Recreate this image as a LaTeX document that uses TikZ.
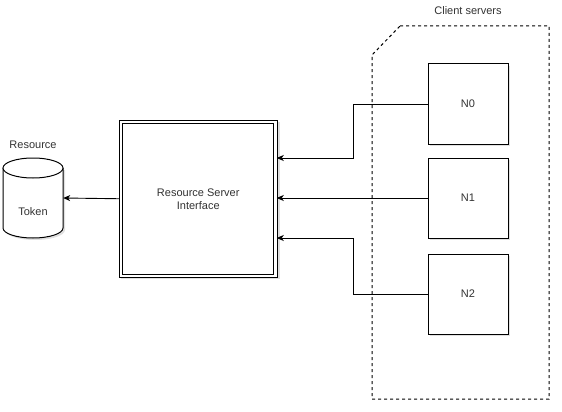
\documentclass[tikz,border=0pt]{standalone}
\usepackage{fontspec}
\setmainfont{Liberation Sans}
\usetikzlibrary{arrows.meta}
\begin{document}
\begin{tikzpicture}[x=1pt,y=-1pt,
  every node/.style={font=\fontsize{11}{13}\selectfont, text=black!80},
  sbox/.style={draw=black, line width=1pt, fill=white, minimum width=80pt, minimum height=80pt, inner sep=0pt},
  shd/.style={fill=black, opacity=0.12},
  arr/.style={line width=0.9pt, -{Stealth[length=7pt,width=6pt,inset=2pt]}}
]
\useasboundingbox[fill=white] (0,0) rectangle (562,412);
% container
\draw[line width=1pt, dash pattern=on 3pt off 3pt, fill=white]
  (400,26) -- (549,26) -- (549,399) -- (372,399) -- (372,55) -- cycle;
\node (cl) at (468,11) {Client servers};
% resource cylinder
\fill[shd] (5,170) -- (5,230) arc[start angle=180, end angle=0, x radius=30, y radius=10] -- (65,170) -- cycle;
\draw[line width=1pt, fill=white] (3,168) -- (3,228) arc[start angle=180, end angle=0, x radius=30, y radius=10] -- (63,168);
\draw[line width=1pt, fill=white] (33,168) ellipse [x radius=30, y radius=10];
\node[inner sep=0pt, minimum width=60pt, minimum height=80pt] (res) at (33,198) {};
\node (tok) at (33,212) {Token};
\node (reslabel) at (33,145) {Resource};
% main box
\fill[shd] (121,122) rectangle (279.5,278.5);
\draw[line width=1pt, fill=white] (119.5,120.5) rectangle (277,277);
\node[draw=black, line width=1pt, fill=white,
  minimum width=151pt, minimum height=150.5pt, inner sep=0pt, outer sep=3pt, align=center]
  (rs) at (198.25,198.75) {Resource Server\\Interface};
% client nodes
\foreach \y in {104,198,294} {\fill[shd] (430,\y-38) rectangle (510,\y+42);}
\node[sbox] (n0) at (468,104) {N0};
\node[sbox] (n1) at (468,198) {N1};
\node[sbox] (n2) at (468,294) {N2};
% connectors
\draw[arr] (rs.west) -- (res.east);
\draw[arr] (n0.west) -- (353,104) -- (353,158) -- (rs.east |- 0,158);
\draw[arr] (n1.west) -- (rs.east |- n1.west);
\draw[arr] (n2.west) -- (353,294) -- (353,238) -- (rs.east |- 0,238);
\end{tikzpicture}
\end{document}
